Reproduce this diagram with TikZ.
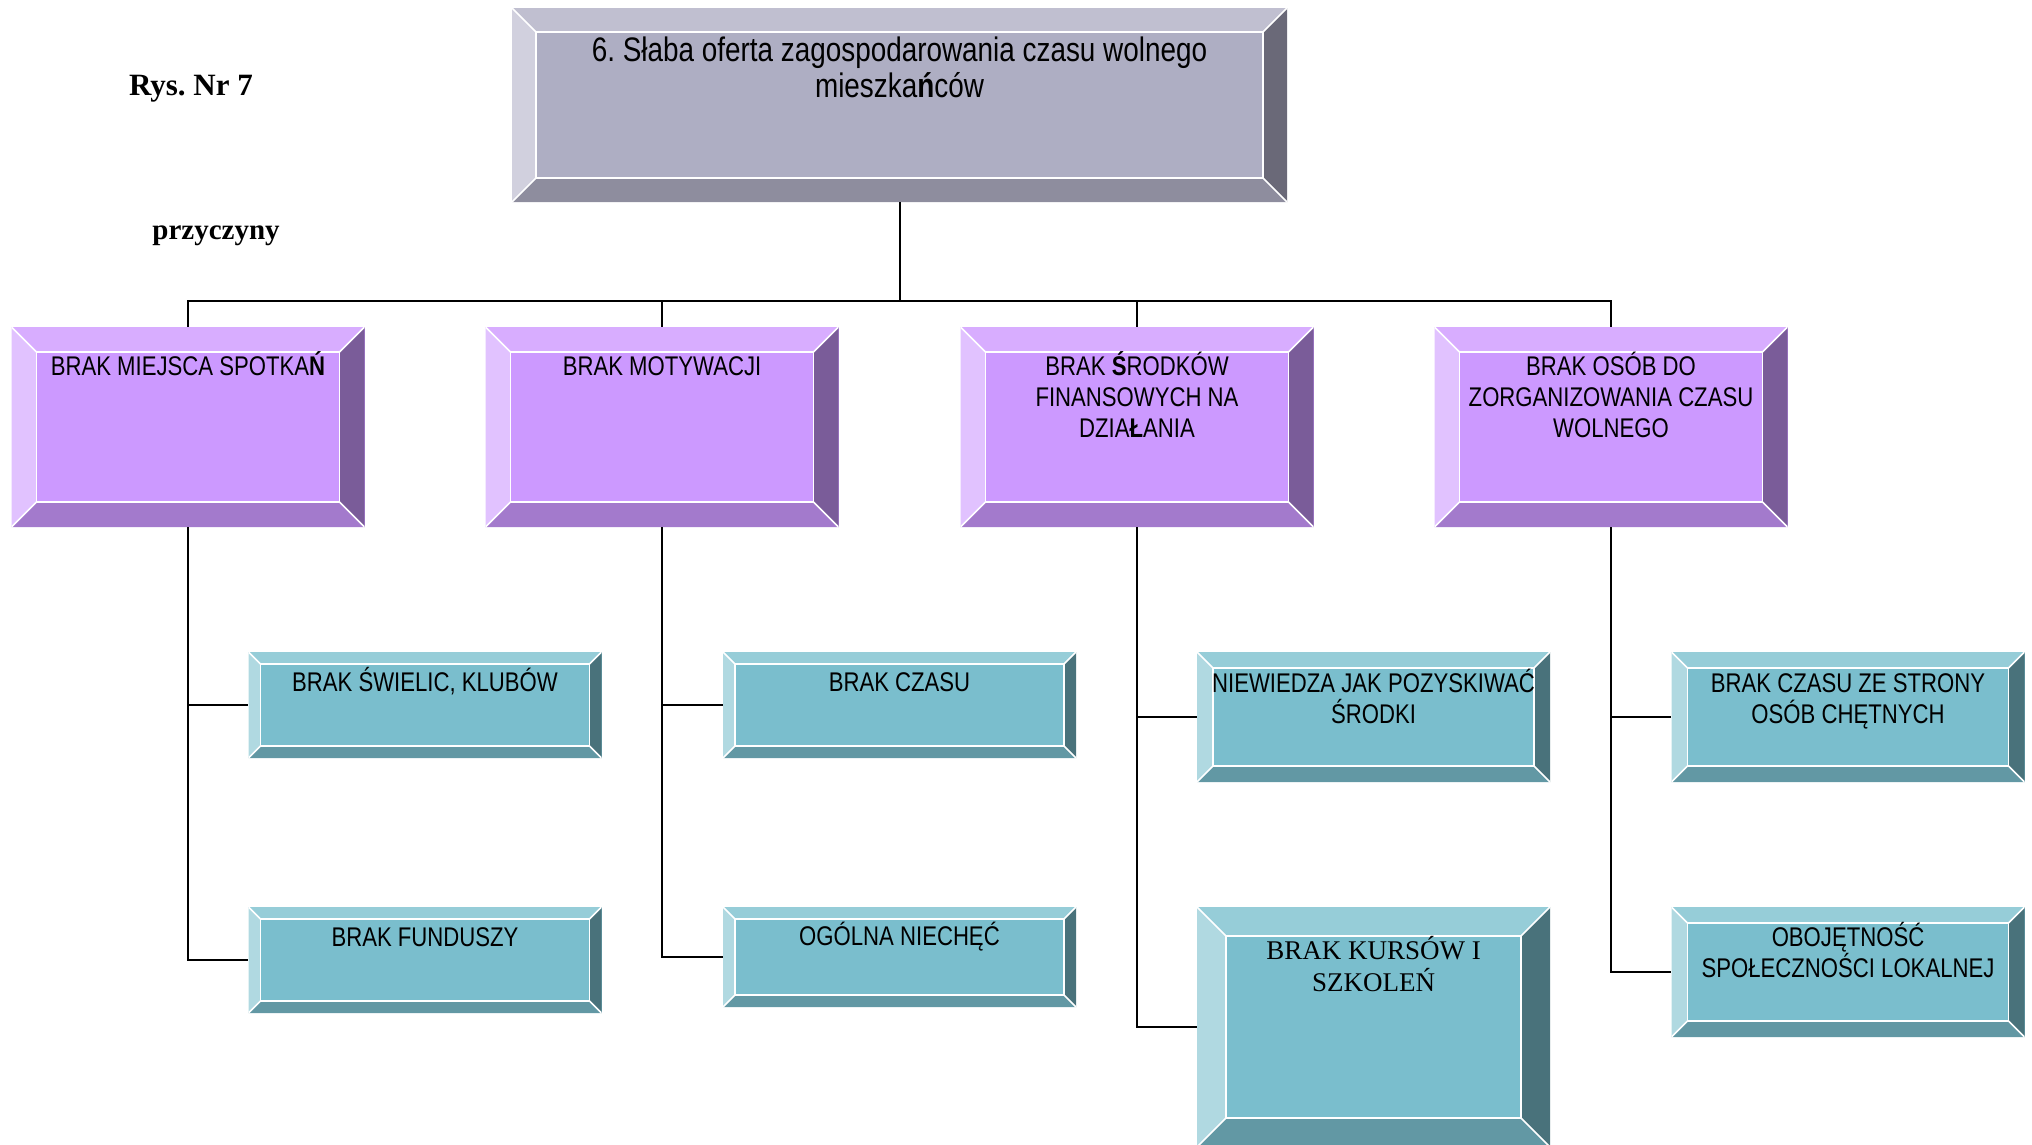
\documentclass[tikz,border=0pt]{standalone}
\usepackage{fontspec}
\newfontfamily\narrowsf[FakeStretch=0.82]{Liberation Sans}
\newfontfamily\timesrm{Liberation Serif}
\usepackage{tikz}
\frenchspacing

\definecolor{greyface}{RGB}{174,174,195}
\definecolor{greytop}{RGB}{192,191,208}
\definecolor{greyleft}{RGB}{209,208,222}
\definecolor{greyright}{RGB}{106,105,120}
\definecolor{greybottom}{RGB}{142,141,158}
\definecolor{lilaface}{RGB}{204,153,255}
\definecolor{lilatop}{RGB}{216,173,255}
\definecolor{lilaleft}{RGB}{225,194,255}
\definecolor{lilaright}{RGB}{122,92,153}
\definecolor{lilabottom}{RGB}{163,122,204}
\definecolor{tealface}{RGB}{122,190,205}
\definecolor{tealtop}{RGB}{150,205,216}
\definecolor{tealleft}{RGB}{176,217,225}
\definecolor{tealright}{RGB}{73,114,123}
\definecolor{tealbottom}{RGB}{98,152,164}

\tikzset{
  bevel/.style 2 args={rectangle, inner sep=0pt, fill=#2face,
    path picture={
      \fill[#2top] (path picture bounding box.north west) -- (path picture bounding box.north east)
        -- ++(-#1pt,-#1pt) -- ([shift={(#1pt,-#1pt)}]path picture bounding box.north west) -- cycle;
      \fill[#2left] (path picture bounding box.north west) -- (path picture bounding box.south west)
        -- ++(#1pt,#1pt) -- ([shift={(#1pt,-#1pt)}]path picture bounding box.north west) -- cycle;
      \fill[#2right] (path picture bounding box.north east) -- (path picture bounding box.south east)
        -- ++(-#1pt,#1pt) -- ([shift={(-#1pt,-#1pt)}]path picture bounding box.north east) -- cycle;
      \fill[#2bottom] (path picture bounding box.south west) -- (path picture bounding box.south east)
        -- ++(-#1pt,#1pt) -- ([shift={(#1pt,#1pt)}]path picture bounding box.south west) -- cycle;
      \draw[white, line width=1.5pt] ([shift={(#1pt,-#1pt)}]path picture bounding box.north west)
        rectangle ([shift={(-#1pt,#1pt)}]path picture bounding box.south east);
      \draw[white, line width=1.5pt] (path picture bounding box.north west) -- ++(#1pt,-#1pt)
        (path picture bounding box.north east) -- ++(-#1pt,-#1pt)
        (path picture bounding box.south west) -- ++(#1pt,#1pt)
        (path picture bounding box.south east) -- ++(-#1pt,#1pt);
    }},
  lilabox/.style={bevel={25}{lila}, minimum width=353, minimum height=200},
  tealbox/.style={bevel={12}{teal}, minimum width=353, minimum height=106},
  boxtext/.style={font=\narrowsf\fontsize{27}{31}\selectfont, align=center, inner sep=0pt, anchor=base},
  toptext/.style={font=\narrowsf\fontsize{34}{36}\selectfont, align=center, inner sep=0pt, anchor=base},
  serftext/.style={font=\timesrm\fontsize{27}{32}\selectfont, align=center, inner sep=0pt, anchor=base},
  title/.style={font=\timesrm\bfseries\fontsize{31}{36}\selectfont, inner sep=0pt, anchor=base},
  conn/.style={draw=black, line width=2pt},
}

\begin{document}
\begin{tikzpicture}[x=1pt,y=-1pt]
\useasboundingbox (0,0) rectangle (2032,1144);

\node[title] (rys) at (191,95) {Rys. Nr 7};
\node[title, font=\timesrm\bfseries\fontsize{29}{34}\selectfont] (przy) at (216,239) {przyczyny};

% problem
\node[bevel={24}{grey}, minimum width=775, minimum height=194,
  label={[toptext, yshift=-90pt]north:{6. Słaba oferta zagospodarowania czasu wolnego\\mieszka{\bfseries ń}ców}}]
  (top) at (899.5,105) {};

% przyczyny
\node[lilabox, label={[boxtext, yshift=-49pt]north:{BRAK MIEJSCA SPOTKA{\bfseries Ń}}}] (p1) at (188,427) {};
\node[lilabox, label={[boxtext, yshift=-49pt]north:{BRAK MOTYWACJI}}] (p2) at (662,427) {};
\node[lilabox, label={[boxtext, yshift=-111pt]north:{BRAK {\bfseries Ś}RODKÓW\\FINANSOWYCH NA\\DZIA{\bfseries Ł}ANIA}}] (p3) at (1137,427) {};
\node[lilabox, label={[boxtext, yshift=-111pt]north:{BRAK OSÓB DO\\ZORGANIZOWANIA CZASU\\WOLNEGO}}] (p4) at (1611,427) {};

\node[tealbox, label={[boxtext, yshift=-40pt]north:{BRAK ŚWIELIC, KLUBÓW}}] (c11) at (425,705) {};
\node[tealbox, label={[boxtext, yshift=-40pt]north:{BRAK FUNDUSZY}}] (c12) at (425,960) {};
\node[tealbox, label={[boxtext, yshift=-40pt]north:{BRAK CZASU}}] (c21) at (899.5,705) {};
\node[tealbox, minimum height=100, label={[boxtext, yshift=-39pt]north:{OGÓLNA NIECHĘĆ}}] (c22) at (899.5,957) {};
\node[tealbox, bevel={16}{teal}, minimum height=130, label={[boxtext, yshift=-72pt]north:{NIEWIEDZA JAK POZYSKIWAĆ\\ŚRODKI}}] (c31) at (1373.5,717) {};
\node[tealbox, bevel={29}{teal}, minimum height=240, label={[serftext, yshift=-85pt]north:{BRAK KURSÓW I\\SZKOLEŃ}}] (c32) at (1373.5,1027) {};
\node[tealbox, bevel={16}{teal}, minimum height=130, label={[boxtext, yshift=-72pt]north:{BRAK CZASU ZE STRONY\\OSÓB CHĘTNYCH}}] (c41) at (1848,717) {};
\node[tealbox, bevel={16}{teal}, minimum height=130, label={[boxtext, yshift=-71pt]north:{OBOJĘTNOŚĆ\\SPOŁECZNOŚCI LOKALNEJ}}] (c42) at (1848,972) {};

\coordinate (bus) at (899.5,301);
\draw[conn] (top.south) -- (bus);
\draw[conn] (p1.north) |- (bus) -| (p4.north);
\draw[conn] (bus) -| (p2.north);
\draw[conn] (bus) -| (p3.north);
\foreach \from/\to in {p1/c11,p1/c12,p2/c21,p2/c22,p3/c31,p3/c32,p4/c41,p4/c42}
\draw[conn] (\from.south) |- (\to.west);
\end{tikzpicture}
\end{document}
